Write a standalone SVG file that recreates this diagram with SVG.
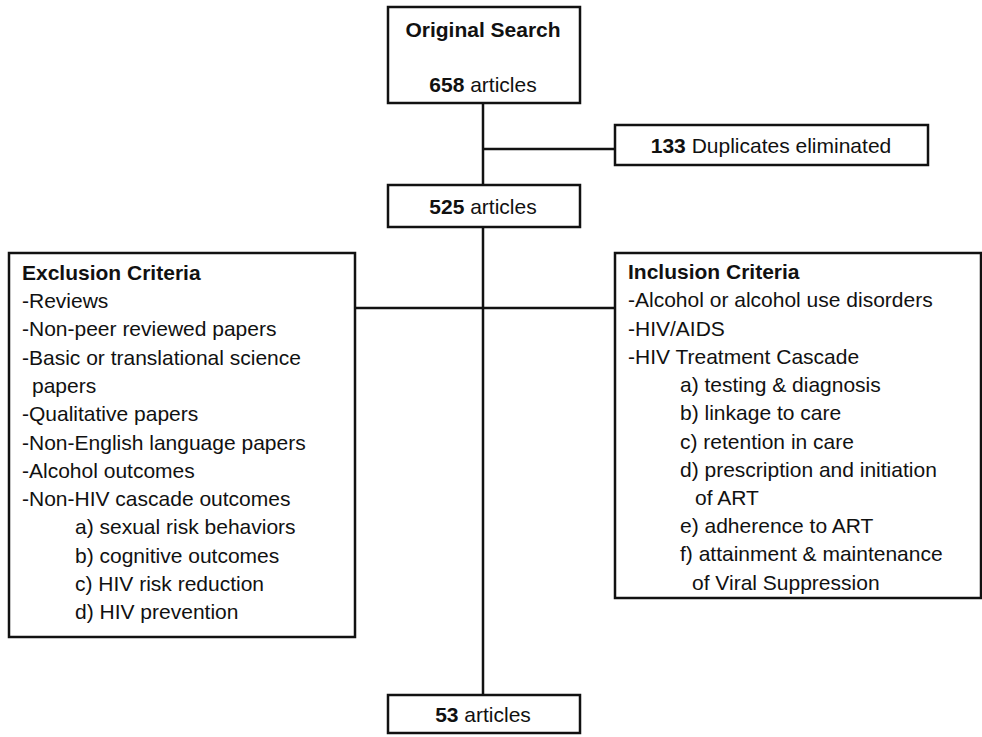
<svg xmlns="http://www.w3.org/2000/svg" width="982" height="737" viewBox="0 0 982 737">
<style>
text{font-family:"Liberation Sans",Arial,sans-serif;font-size:21px;fill:#111}
.c{text-anchor:middle}
.b{font-weight:bold}
rect{fill:#fff;stroke:#111;stroke-width:2.5}
.ln{stroke:#111;stroke-width:2.5;fill:none}
</style>
<rect x="0" y="0" width="982" height="737" style="fill:#fff;stroke:none"/>
<g id="connectors">
<line class="ln" x1="483" y1="103" x2="483" y2="695"/>
<line class="ln" x1="483" y1="149" x2="615" y2="149"/>
<line class="ln" x1="355" y1="308" x2="615" y2="308"/>
</g>
<g id="original">
<rect x="388" y="7" width="192" height="96"/>
<text class="c b" x="483" y="37">Original Search</text>
<text class="c" x="483" y="92"><tspan class="b">658</tspan> articles</text>
</g>
<g id="duplicates">
<rect x="615" y="125" width="313" height="40"/>
<text class="c" x="771" y="153"><tspan class="b">133</tspan> Duplicates eliminated</text>
</g>
<g id="a525">
<rect x="388" y="185" width="192" height="42"/>
<text class="c" x="483" y="214"><tspan class="b">525</tspan> articles</text>
</g>
<g id="exclusion">
<rect x="9" y="253" width="346" height="384"/>
<text class="b" x="22" y="280">Exclusion Criteria</text>
<text x="22" y="308">-Reviews</text>
<text x="22" y="336">-Non-peer reviewed papers</text>
<text x="22" y="365">-Basic or translational science</text>
<text x="32" y="393">papers</text>
<text x="22" y="421">-Qualitative papers</text>
<text x="22" y="450">-Non-English language papers</text>
<text x="22" y="478">-Alcohol outcomes</text>
<text x="22" y="506">-Non-HIV cascade outcomes</text>
<text x="75" y="534">a) sexual risk behaviors</text>
<text x="75" y="563">b) cognitive outcomes</text>
<text x="75" y="591">c) HIV risk reduction</text>
<text x="75" y="619">d) HIV prevention</text>
</g>
<g id="inclusion">
<rect x="615" y="253" width="366" height="345"/>
<text class="b" x="628" y="279">Inclusion Criteria</text>
<text x="628" y="307">-Alcohol or alcohol use disorders</text>
<text x="628" y="336">-HIV/AIDS</text>
<text x="628" y="364">-HIV Treatment Cascade</text>
<text x="680" y="392">a) testing &amp; diagnosis</text>
<text x="680" y="420">b) linkage to care</text>
<text x="680" y="449">c) retention in care</text>
<text x="680" y="477">d) prescription and initiation</text>
<text x="695" y="505">of ART</text>
<text x="680" y="533">e) adherence to ART</text>
<text x="680" y="561">f) attainment &amp; maintenance</text>
<text x="692" y="590">of Viral Suppression</text>
</g>
<g id="a53">
<rect x="388" y="695" width="192" height="38"/>
<text class="c" x="483" y="722"><tspan class="b">53</tspan> articles</text>
</g>
</svg>
